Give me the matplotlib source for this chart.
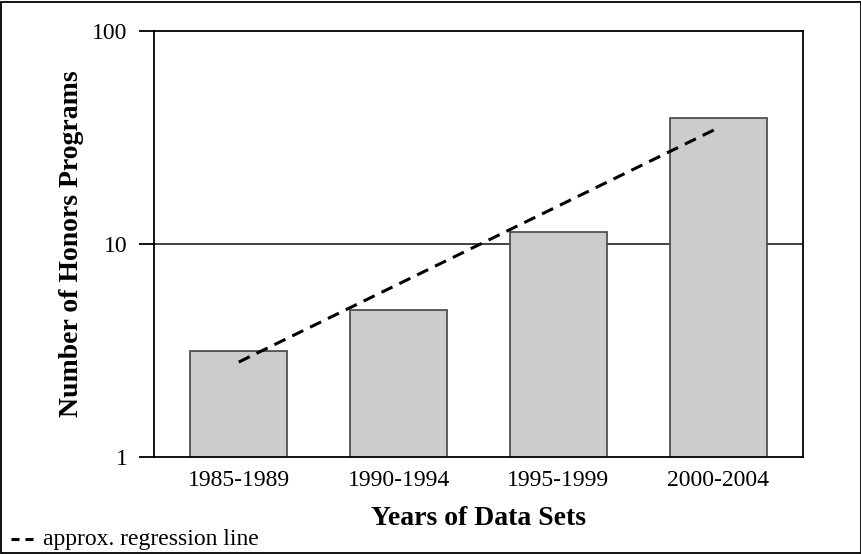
import matplotlib.pyplot as plt
from matplotlib.lines import Line2D
from matplotlib.patches import Rectangle
from matplotlib.ticker import FixedLocator, FixedFormatter, NullLocator

plt.rcParams['font.family'] = ['Liberation Serif', 'DejaVu Serif']

periods = ["1985-1989", "1990-1994", "1995-1999", "2000-2004"]
programs = [3.14, 4.88, 11.4, 39.1]
# approx. regression line, from first to last period
reg_x = [0, 3]
reg_y = [2.79, 35.1]

fig = plt.figure(figsize=(8.62, 5.54), dpi=100)
ax = fig.add_axes([154 / 862, 1 - 457 / 554, 649 / 862, 426 / 554])

x = list(range(len(periods)))
ax.bar(x, programs, width=0.61, color="#cccccc", edgecolor="#444444",
       linewidth=1.2, zorder=2)
ax.plot(reg_x, reg_y, color="black", linestyle=(0, (4, 2.5)), linewidth=2.2, zorder=3)
ax.axhline(10, color="#333333", linewidth=1.3, zorder=1)

ax.set_yscale("log")
ax.set_ylim(1, 100)
ax.set_xlim(-0.53, 3.53)
ax.yaxis.set_major_locator(FixedLocator([1, 10, 100]))
ax.yaxis.set_major_formatter(FixedFormatter(["1", "10", "100"]))
ax.yaxis.set_minor_locator(NullLocator())
ax.set_xticks(x)
ax.set_xticklabels(periods)
ax.tick_params(axis="y", length=11, width=1.3, labelsize=17, pad=8)
ax.tick_params(axis="x", length=0, labelsize=17, pad=9)
for s in ax.spines.values():
    s.set_linewidth(1.3)

ax.set_xlabel("Years of Data Sets", fontsize=20, fontweight="bold", labelpad=11)
ax.set_ylabel("Number of Honors Programs", fontsize=20, fontweight="bold", labelpad=6)

# legend note at bottom left: two short dashes then the text
ly = 1 - 539 / 554
for x0, x1 in [(11, 19), (25, 33)]:
    fig.add_artist(Line2D([x0 / 862, x1 / 862], [ly, ly], color="black",
                          linewidth=2.2, solid_capstyle="butt"))
fig.text(43 / 862, ly, "approx. regression line", fontsize=17, va="center")

# border around the whole figure
fig.add_artist(Rectangle((0.0015, 0.002), 0.997, 0.995, transform=fig.transFigure,
                         fill=False, edgecolor="black", linewidth=1.3))

fig.savefig("out.png", dpi=100)
